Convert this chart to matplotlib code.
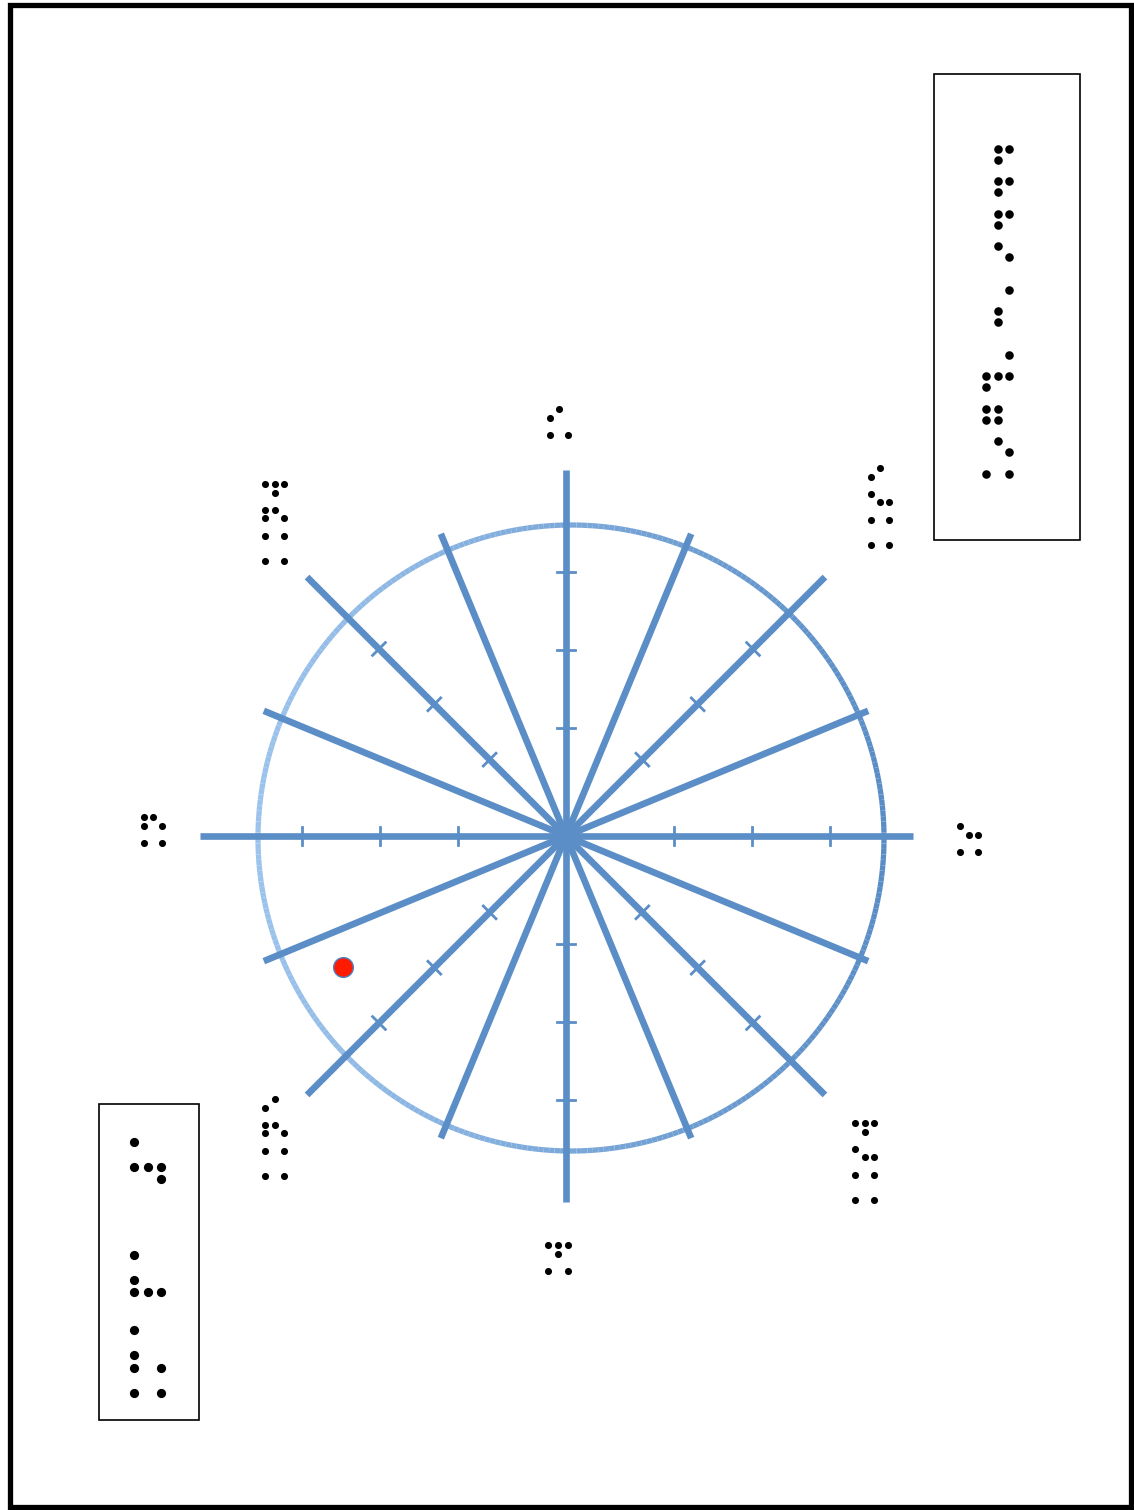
import numpy as np
import matplotlib
matplotlib.use("Agg")
import matplotlib.pyplot as plt
from matplotlib.collections import LineCollection
from matplotlib.patches import Rectangle

# compass: 16 directions (bearing in degrees), ticks on the 8 main ones
directions = np.arange(0, 360, 22.5)
main_dirs = [0, 45, 90, 135, 180, 225, 270, 315]
tick_r = [0.345, 0.595, 0.845]          # fraction of circle radius
point_dir = 239.6                       # red observation
point_r = 0.826

# braille labels, rows of 3 cells ('x' = dot), rows separated by '/'
labels = {
    "N":  ".x./x../.../x.x",
    "E":  "x../.xx/.../x.x",
    "S":  "xxx/.x./.../x.x",
    "W":  "xx./x.x/.../x.x",
    "UL": "xxx/.x./.../xx./x.x/.../x.x/.../.../x.x",
    "UR": ".x./x../.../x../.xx/.../x.x/.../.../x.x",
    "LL": ".x./x../.../xx./x.x/.../x.x/.../.../x.x",
    "LR": "xxx/.x./.../x../.xx/.../x.x/.../.../x.x",
}
title_braille = (".xx/.x./.../.xx/.x./.../.xx/.x./.../.x./..x/.../.../..x/.../"
                 ".x./.x./.../.../..x/.../xxx/x../.../xx./xx./.../.x./..x/.../x.x")
legend_braille = "x../.../xxx/..x/.../.../.../.../.../x../.../x../xxx/.../.../x../.../x../x.x/.../x.x"

W, H = 1134, 1510
fig = plt.figure(figsize=(W / 100, H / 100), dpi=100)
ax = fig.add_axes([0, 0, 1, 1])
ax.set_xlim(0, W)
ax.set_ylim(H, 0)
ax.axis("off")

cx, cy, R = 566, 836, 313
ccx, ccy = 571, 838      # the drawn circle sits a little right of the hub
spoke_col = "#5b8ec6"


def pos(bearing, r, ox=None, oy=None):
    ox = cx if ox is None else ox
    oy = cy if oy is None else oy
    t = np.radians(bearing)
    return ox + r * np.sin(t), oy - r * np.cos(t)


# circle, lighter on the left side
th = np.linspace(0, 2 * np.pi, 361)
xs = ccx + R * np.cos(th)
ys = ccy + R * np.sin(th)
segs = [[(xs[i], ys[i]), (xs[i + 1], ys[i + 1])] for i in range(360)]
light = np.array(matplotlib.colors.to_rgb("#9cc3ec"))
dark = np.array(matplotlib.colors.to_rgb("#5a8dc6"))
w = (np.cos(th[:-1]) + 1) / 2
cols = [tuple(light * (1 - k) + dark * k) for k in w]
ax.add_collection(LineCollection(segs, colors=cols, linewidths=3.8, zorder=2))

# spokes (each half drawn from the hub)
for d in directions:
    if d in main_dirs:
        L = 1.11 * R if d == 90 else 1.17 * R
    else:
        L = 1.045 * R
    x1, y1 = pos(d, L)
    ax.plot([cx, x1], [cy, y1], color=spoke_col, lw=4.8, solid_capstyle="butt", zorder=3)

# tick marks on the main spokes
for d in main_dirs:
    for r in tick_r:
        px, py = pos(d, r * R)
        a, b = pos(d + 90, 9)
        ax.plot([px - (a - cx), px + (a - cx)], [py - (b - cy), py + (b - cy)],
                color=spoke_col, lw=2.0, zorder=3)

px, py = pos(point_dir, point_r * R)
ax.scatter([px], [py], s=200, color="#ff1a00", edgecolors="#4a7fc0", linewidths=1.0, zorder=5)


def braille(code, x0, y0, dx, dy, s):
    bx, by = [], []
    for i, row in enumerate(code.split("/")):
        for j, c in enumerate(row):
            if c == "x":
                bx.append(x0 + j * dx)
                by.append(y0 + i * dy)
    ax.scatter(bx, by, s=s, color="black", linewidths=0, zorder=6)


# label anchors (top-left dot position)
anchors = {
    "N": (550, 409, 9, 8.6), "E": (960, 826, 9, 8.6),
    "S": (548, 1245, 10, 8.6), "W": (144, 817, 9, 8.6),
    "UL": (265, 484, 9.5, 8.6), "UR": (871, 468, 9, 8.6),
    "LL": (265, 1099, 9.5, 8.6), "LR": (855, 1123, 9.5, 8.6),
}
for k, code in labels.items():
    x0, y0, dx, dy = anchors[k]
    braille(code, x0, y0, dx, dy, 26)

# boxes
ax.add_patch(Rectangle((934, 74), 146, 466, fill=False, ec="black", lw=1.2, zorder=4))
braille(title_braille, 986, 149, 11.5, 10.83, 38)
ax.add_patch(Rectangle((99, 1104), 100, 316, fill=False, ec="black", lw=1.2, zorder=4))
braille(legend_braille, 134.3, 1141.7, 13.2, 12.55, 44)

# page frame
ax.add_patch(Rectangle((10, 5), 1121, 1502, fill=False, ec="black", lw=3.8, zorder=7))

fig.savefig("out.png", dpi=100)
